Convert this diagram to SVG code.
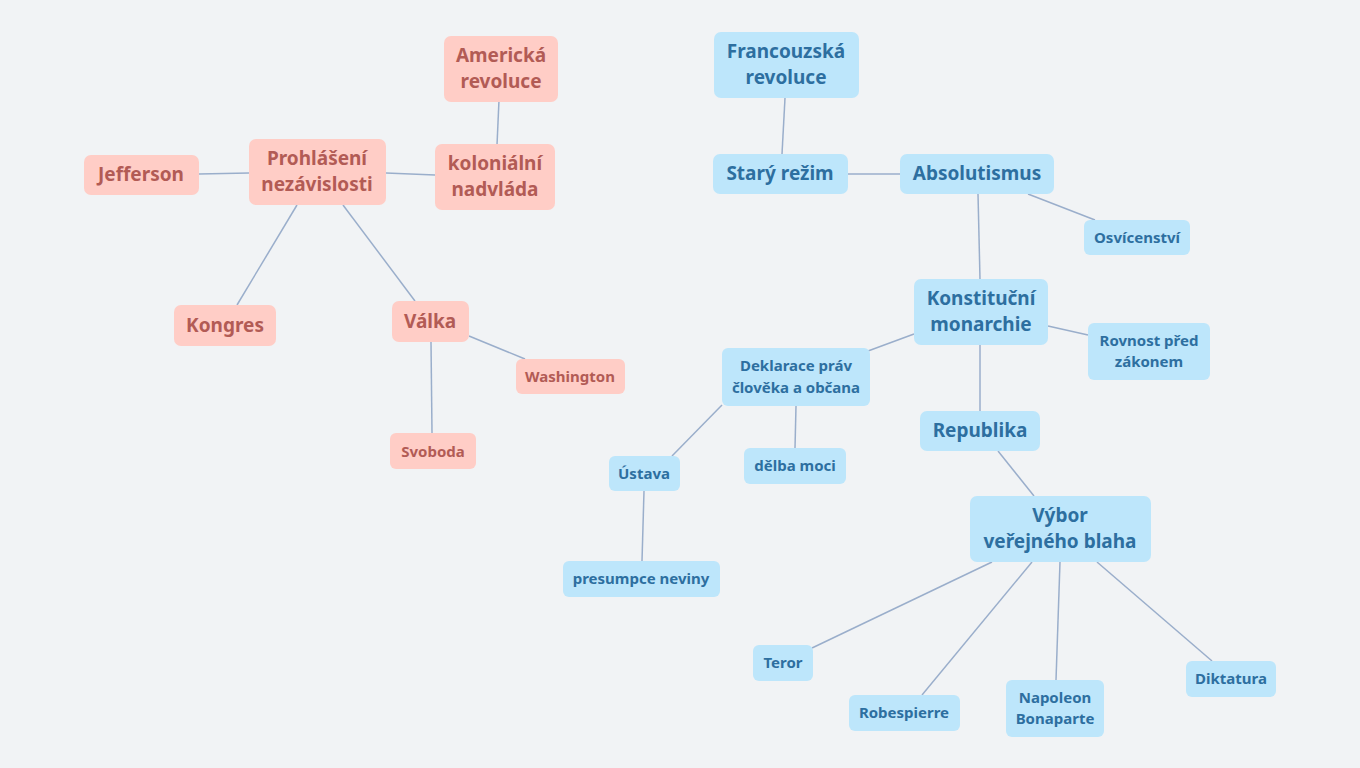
<svg xmlns="http://www.w3.org/2000/svg" width="1360" height="768" viewBox="0 0 1360 768">
<style>
.p rect{fill:#ffcdc6}.p text{fill:#b25b55}
.b rect{fill:#bde6fb}.b text{fill:#2d6fa0}
text{font-family:"Noto Sans","Open Sans",sans-serif;font-weight:bold;text-anchor:middle}
.l text{font-size:19px}.s text{font-size:15px}
#c line{stroke:#9aaecb;stroke-width:1.5}
</style>
<rect width="1360" height="768" fill="#f1f3f5"/>
<g id="c">
<line x1="499" y1="100" x2="497" y2="145"/>
<line x1="386" y1="173" x2="435" y2="175"/>
<line x1="199" y1="174" x2="249" y2="173"/>
<line x1="297" y1="205" x2="237" y2="305"/>
<line x1="343" y1="205" x2="415" y2="301"/>
<line x1="469" y1="336" x2="525" y2="359"/>
<line x1="431" y1="342" x2="432" y2="433"/>
<line x1="785" y1="98" x2="782" y2="154"/>
<line x1="848" y1="174" x2="900" y2="174"/>
<line x1="1028" y1="194" x2="1095" y2="220"/>
<line x1="978" y1="194" x2="980" y2="279"/>
<line x1="1048" y1="326" x2="1088" y2="335"/>
<line x1="914" y1="334" x2="868" y2="351"/>
<line x1="980" y1="345" x2="980" y2="411"/>
<line x1="722" y1="405" x2="672" y2="456"/>
<line x1="796" y1="406" x2="795" y2="448"/>
<line x1="644" y1="491" x2="642" y2="561"/>
<line x1="998" y1="451" x2="1034" y2="496"/>
<line x1="992" y1="562" x2="812" y2="648"/>
<line x1="1032" y1="562" x2="922" y2="695"/>
<line x1="1060" y1="562" x2="1056" y2="680"/>
<line x1="1097" y1="562" x2="1212" y2="661"/>
</g>
<g id="n1" class="p l"><rect x="444" y="36" width="114" height="66" rx="7"/><text x="501" y="62">Americká</text><text x="501" y="88">revoluce</text></g>
<g id="n2" class="p l"><rect x="249" y="139" width="137" height="66" rx="7"/><text x="317" y="165">Prohlášení</text><text x="317" y="191">nezávislosti</text></g>
<g id="n3" class="p l"><rect x="435" y="144" width="120" height="66" rx="7"/><text x="495" y="170">koloniální</text><text x="495" y="196">nadvláda</text></g>
<g id="n4" class="p l"><rect x="84" y="155" width="115" height="40" rx="7"/><text x="141" y="181">Jefferson</text></g>
<g id="n5" class="p l"><rect x="174" y="305" width="102" height="41" rx="7"/><text x="225" y="332">Kongres</text></g>
<g id="n6" class="p l"><rect x="392" y="301" width="77" height="41" rx="7"/><text x="430" y="328">Válka</text></g>
<g id="n7" class="p s"><rect x="516" y="359" width="109" height="35" rx="6"/><text x="570" y="382">Washington</text></g>
<g id="n8" class="p s"><rect x="390" y="433" width="86" height="36" rx="6"/><text x="433" y="457">Svoboda</text></g>
<g id="n9" class="b l"><rect x="714" y="32" width="145" height="66" rx="7"/><text x="786" y="58">Francouzská</text><text x="786" y="84">revoluce</text></g>
<g id="n10" class="b l"><rect x="713" y="154" width="135" height="40" rx="7"/><text x="780" y="180">Starý režim</text></g>
<g id="n11" class="b l"><rect x="900" y="154" width="154" height="40" rx="7"/><text x="977" y="180">Absolutismus</text></g>
<g id="n12" class="b s"><rect x="1084" y="220" width="106" height="35" rx="6"/><text x="1137" y="243">Osvícenství</text></g>
<g id="n13" class="b l"><rect x="914" y="279" width="134" height="66" rx="7"/><text x="981" y="305">Konstituční</text><text x="981" y="331">monarchie</text></g>
<g id="n14" class="b s"><rect x="1088" y="323" width="122" height="57" rx="6"/><text x="1149" y="346">Rovnost před</text><text x="1149" y="367">zákonem</text></g>
<g id="n15" class="b s"><rect x="722" y="348" width="148" height="58" rx="6"/><text x="796" y="371">Deklarace práv</text><text x="796" y="393">člověka a občana</text></g>
<g id="n16" class="b l"><rect x="920" y="411" width="120" height="40" rx="7"/><text x="980" y="437">Republika</text></g>
<g id="n17" class="b s"><rect x="609" y="456" width="71" height="35" rx="6"/><text x="644" y="479">Ústava</text></g>
<g id="n18" class="b s"><rect x="744" y="448" width="102" height="36" rx="6"/><text x="795" y="471">dělba moci</text></g>
<g id="n19" class="b s"><rect x="563" y="561" width="157" height="36" rx="6"/><text x="641" y="584">presumpce neviny</text></g>
<g id="n20" class="b l"><rect x="970" y="496" width="181" height="66" rx="7"/><text x="1060" y="522">Výbor</text><text x="1060" y="548">veřejného blaha</text></g>
<g id="n21" class="b s"><rect x="753" y="645" width="60" height="36" rx="6"/><text x="783" y="668">Teror</text></g>
<g id="n22" class="b s"><rect x="849" y="695" width="111" height="36" rx="6"/><text x="904" y="718">Robespierre</text></g>
<g id="n23" class="b s"><rect x="1006" y="680" width="98" height="57" rx="6"/><text x="1055" y="703">Napoleon</text><text x="1055" y="724">Bonaparte</text></g>
<g id="n24" class="b s"><rect x="1186" y="661" width="90" height="36" rx="6"/><text x="1231" y="684">Diktatura</text></g>
</svg>
